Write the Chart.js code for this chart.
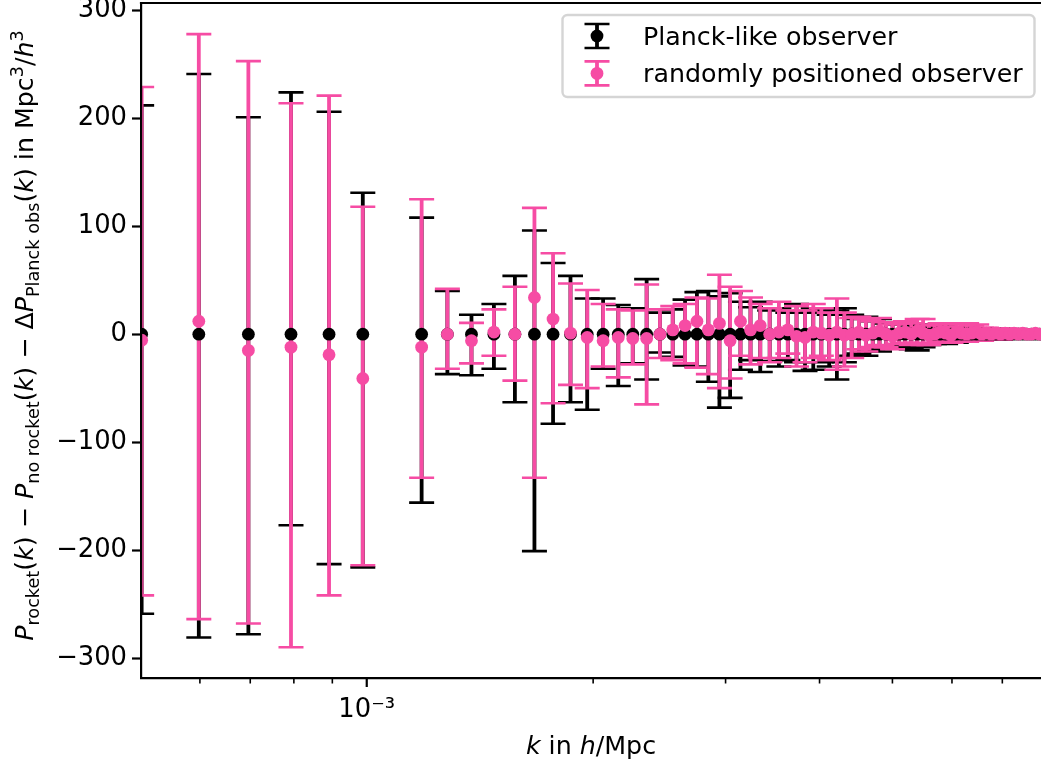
<!DOCTYPE html>
<html>
<head>
<meta charset="utf-8">
<script src="https://cdn.jsdelivr.net/npm/chart.js@4.4.1/dist/chart.umd.min.js"></script>
<style>
  html, body { margin: 0; padding: 0; background: #fff; }
  canvas { display: block; }
</style>
</head>
<body>
<canvas id="spectrum" width="1041" height="764"></canvas>
<script>
// wavenumbers, in units of 1e-3 h/Mpc
const kValues = [
  0.502, 0.598, 0.696, 0.793, 0.891, 0.988,
  1.183, 1.280, 1.378, 1.476, 1.574, 1.671, 1.769, 1.866, 1.964,
  2.062, 2.160, 2.258, 2.356, 2.454, 2.552, 2.650, 2.748, 2.846, 2.944,
  3.042, 3.140, 3.238, 3.336, 3.434, 3.532, 3.630, 3.728, 3.826, 3.924,
  4.022, 4.120, 4.218, 4.316, 4.414, 4.512, 4.610, 4.708, 4.806, 4.904,
  5.002, 5.100, 5.198, 5.296, 5.394, 5.492, 5.590, 5.688, 5.786, 5.884,
  5.982, 6.080, 6.178, 6.276, 6.374, 6.472, 6.570, 6.668, 6.766, 6.864,
  6.962, 7.060, 7.158, 7.256, 7.354, 7.452, 7.550, 7.648, 7.746, 7.844
];

// Planck-like observer: residual is zero by construction, bars give the spread
const planckMean = [
  0, 0, 0, 0, 0, 0,
  0, 0, 0, 0, 0, 0, 0, 0, 0,
  0, 0, 0, 0, 0, 0, 0, 0, 0, 0,
  0, 0, 0, 0, 0, 0, 0, 0, 0, 0,
  0, 0, 0, 0, 0, 0, 0, 0, 0, 0,
  0, 0, 0, 0, 0, 0, 0, 0, 0, 0,
  0, 0, 0, 0, 0, 0, 0, 0, 0, 0,
  0, 0, 0, 0, 0, 0, 0, 0, 0, 0
];
const planckHigh = [
  212, 241, 201, 224, 206, 131,
  108, 40, 18, 28, 54, 96, 66, 54, 33,
  33, 27, 24, 51, 20, 23, 32, 39, 40, 35,
  38, 30, 25, 30, 22, 24, 20, 28, 20, 24,
  22, 18, 22, 24, 18, 14, 16, 12, 14, 10,
  11, 9, 10, 8, 9, 8, 7, 8, 6, 7,
  6, 6, 5, 6, 5, 5, 4, 5, 4, 4,
  4, 3, 4, 3, 3, 3, 3, 3, 2, 2
];
const planckLow = [
  -259, -281, -278, -177, -213, -216,
  -156, -37, -38, -32, -63, -201, -83, -63, -70,
  -32, -48, -27, -42, -17, -21, -29, -30, -44, -68,
  -59, -33, -24, -35, -25, -30, -24, -26, -34, -33,
  -26, -30, -42, -26, -20, -18, -20, -14, -16, -12,
  -13, -11, -12, -14, -15, -12, -10, -9, -8, -9,
  -7, -8, -7, -6, -6, -6, -5, -5, -5, -5,
  -4, -4, -4, -4, -3, -3, -3, -3, -3, -3
];

// randomly positioned observer
const randomMean = [
  -5.6, 12, -15, -12, -19, -41,
  -12, 0, -6, 2, 0, 34, 14, 1, -3,
  -6, -3, -4, -4, 0, 4, 8, 12, 4, 10,
  -6, 12, 4, 8, 0, 2, 4, -2, -3, 2,
  1, -1, 2, -1, 0, 2, -1, 1, 3, 0,
  -2, 1, 2, 0, 3, 1, -1, 0, 2, 1,
  -1, 2, 1, 0, 1, 2, 0, 1, 0, 1,
  0, 1, 0, 1, 0, 1, 0, 0, 1, 0
];
const randomHigh = [
  229, 278, 253, 214, 221, 118,
  125, 42, 10.5, 23, 44, 117, 75, 47, 41,
  28, 23, 22, 46, 23, 26, 28, 34, 33, 55,
  44, 40, 34, 28, 24, 30, 22, 26, 22, 28,
  24, 20, 33, 20, 15, 16, 14, 12, 15, 11,
  9, 10, 12, 10, 14, 14, 8, 9, 10, 10,
  7, 10, 9, 10, 8, 9, 6, 6, 5, 5,
  5, 5, 4, 5, 4, 4, 4, 4, 3, 3
];
const randomLow = [
  -242, -264, -268, -290, -242, -214,
  -133, -32, -27, -20, -43, -133, -64, -47, -50,
  -30, -40, -28, -65, -22, -24, -27, -31, -37, -50,
  -41, -20, -28, -22, -26, -22, -18, -30, -26, -22,
  -20, -24, -33, -30, -22, -14, -16, -12, -10, -12,
  -14, -9, -8, -10, -8, -10, -10, -8, -6, -7,
  -8, -6, -7, -7, -6, -5, -6, -5, -5, -4,
  -5, -4, -4, -4, -4, -3, -4, -3, -3, -3
];

const seriesLabels = ['Planck-like observer', 'randomly positioned observer'];
const xMajorTicks = [1e-3];
const xMinorTicks = [6e-4, 7e-4, 8e-4, 9e-4, 2e-3, 3e-3, 4e-3, 5e-3, 6e-3, 7e-3];
const yStep = 100;

const INK = '#000000';
const PINK = '#f64ca4';
const FONT = '"DejaVu Sans", sans-serif';
const FS = 25.3;      // titles and legend
const FS_TICK = 25.8; // tick labels

const capHalf = 12.5;
const dotRadius = 6.4;

function drawErrorBar(ctx, px, top, bottom, color) {
  ctx.strokeStyle = color;
  ctx.lineCap = 'butt';
  ctx.lineWidth = 3.8;
  ctx.beginPath();
  ctx.moveTo(px, top);
  ctx.lineTo(px, bottom);
  ctx.stroke();
  ctx.lineWidth = 2.6;
  ctx.beginPath();
  ctx.moveTo(px - capHalf, top);
  ctx.lineTo(px + capHalf, top);
  ctx.moveTo(px - capHalf, bottom);
  ctx.lineTo(px + capHalf, bottom);
  ctx.stroke();
}

// bars for every dataset go under all markers
const errorBars = {
  id: 'errorBars',
  beforeDatasetsDraw(chart) {
    const { ctx, chartArea: a, scales: { x, y } } = chart;
    ctx.save();
    ctx.beginPath();
    ctx.rect(a.left, a.top, a.right - a.left, a.bottom - a.top);
    ctx.clip();
    chart.data.datasets.forEach(ds => {
      ds.data.forEach((p, i) => {
        drawErrorBar(ctx, x.getPixelForValue(p.x),
          y.getPixelForValue(ds.errHigh[i]), y.getPixelForValue(ds.errLow[i]), ds.backgroundColor);
      });
    });
    ctx.restore();
  }
};

// mixed roman / italic / sub- and superscript text
function richWidth(ctx, parts) {
  let w = 0;
  parts.forEach(p => {
    ctx.font = (p.it ? 'italic ' : '') + (FS * (p.s || 1)) + 'px ' + FONT;
    w += ctx.measureText(p.t).width;
  });
  return w;
}
function drawRich(ctx, parts, x0, base) {
  let x = x0;
  parts.forEach(p => {
    ctx.font = (p.it ? 'italic ' : '') + (FS * (p.s || 1)) + 'px ' + FONT;
    ctx.fillText(p.t, x, base + (p.dy || 0) * FS);
    x += ctx.measureText(p.t).width;
  });
}
const sub = { s: 0.7, dy: 0.22 };
const sup = { s: 0.7, dy: -0.4 };
const yTitle = [
  { t: 'P', it: true }, { t: 'rocket', ...sub }, { t: '(' }, { t: 'k', it: true }, { t: ')' },
  { t: ' \u2212 ' },
  { t: 'P', it: true }, { t: 'no rocket', ...sub }, { t: '(' }, { t: 'k', it: true }, { t: ')' },
  { t: ' \u2212 ' },
  { t: '\u0394' }, { t: 'P', it: true }, { t: 'Planck obs', ...sub }, { t: '(' }, { t: 'k', it: true }, { t: ')' },
  { t: ' in Mpc' }, { t: '3', ...sup }, { t: '/' }, { t: 'h', it: true }, { t: '3', ...sup }
];
const xTitle = [{ t: 'k', it: true }, { t: ' in ' }, { t: 'h', it: true }, { t: '/Mpc' }];

const decorations = {
  id: 'decorations',
  afterDatasetsDraw(chart) {
    const { ctx, chartArea: a, scales: { x } } = chart;
    ctx.save();
    ctx.strokeStyle = INK;
    // top spine
    ctx.lineWidth = 2.2;
    ctx.beginPath();
    ctx.moveTo(a.left - 1.1, a.top);
    ctx.lineTo(a.right, a.top);
    ctx.stroke();
    // log-axis tick marks, long for decades, short in between
    xMajorTicks.forEach(v => {
      const px = x.getPixelForValue(v);
      ctx.lineWidth = 2.2;
      ctx.beginPath(); ctx.moveTo(px, a.bottom); ctx.lineTo(px, a.bottom + 9); ctx.stroke();
    });
    xMinorTicks.forEach(v => {
      const px = x.getPixelForValue(v);
      ctx.lineWidth = 1.6;
      ctx.beginPath(); ctx.moveTo(px, a.bottom); ctx.lineTo(px, a.bottom + 5.5); ctx.stroke();
    });
    ctx.restore();
  },
  afterDraw(chart) {
    const { ctx, chartArea: a } = chart;
    ctx.save();
    ctx.fillStyle = INK;
    ctx.textBaseline = 'alphabetic';

    // axis titles
    const xw = richWidth(ctx, xTitle);
    drawRich(ctx, xTitle, (a.left + a.right) / 2 - xw / 2, 754);
    ctx.save();
    ctx.translate(33, (a.top + a.bottom) / 2 - 5);
    ctx.rotate(-Math.PI / 2);
    const yw = richWidth(ctx, yTitle);
    drawRich(ctx, yTitle, -yw / 2, 0);
    ctx.restore();

    // legend
    const bx = 562.5, by = 15, bw = 472, bh = 82;
    ctx.beginPath();
    ctx.roundRect(bx, by, bw, bh, 5);
    ctx.fillStyle = 'rgba(255,255,255,0.8)';
    ctx.fill();
    ctx.strokeStyle = '#d5d5d5';
    ctx.lineWidth = 2.4;
    ctx.stroke();
    chart.data.datasets.forEach((ds, i) => {
      const cy = 36 + i * 37.4;
      drawErrorBar(ctx, 597, cy - 12, cy + 12, ds.backgroundColor);
      ctx.fillStyle = ds.backgroundColor;
      ctx.beginPath();
      ctx.arc(597, cy, dotRadius, 0, Math.PI * 2);
      ctx.fill();
      ctx.fillStyle = INK;
      ctx.font = FS + 'px ' + FONT;
      ctx.fillText(ds.label, 643, cy + 9);
    });
    ctx.restore();
  }
};

const pointsOf = (means) => kValues.map((k, i) => ({ x: k * 1e-3, y: means[i] }));

new Chart(document.getElementById('spectrum'), {
  type: 'scatter',
  data: {
    datasets: [
      {
        label: seriesLabels[0],
        data: pointsOf(planckMean),
        errHigh: planckHigh,
        errLow: planckLow,
        backgroundColor: INK,
        pointRadius: dotRadius,
        pointBorderWidth: 0,
        pointHoverRadius: dotRadius,
        order: 2
      },
      {
        label: seriesLabels[1],
        data: pointsOf(randomMean),
        errHigh: randomHigh,
        errLow: randomLow,
        backgroundColor: PINK,
        pointRadius: dotRadius,
        pointBorderWidth: 0,
        pointHoverRadius: dotRadius,
        order: 1
      }
    ]
  },
  options: {
    responsive: false,
    devicePixelRatio: 1,
    animation: false,
    layout: { autoPadding: false, padding: { top: 3, right: 0, bottom: 0, left: 0 } },
    plugins: { legend: { display: false }, tooltip: { enabled: false } },
    scales: {
      x: {
        type: 'logarithmic',
        min: 5.01e-4,
        max: 7.88e-3,
        grid: { display: false, drawTicks: false },
        border: { display: true, color: INK, width: 2.2, z: 1 },
        ticks: {
          color: INK,
          font: { family: FONT, size: FS_TICK },
          padding: 17,
          maxRotation: 0,
          autoSkip: false,
          callback: v => (v === 1e-3 ? '10\u207B\u00B3' : '')
        },
        afterBuildTicks: s => { s.ticks = xMajorTicks.map(v => ({ value: v })); },
        afterFit: s => { s.height = 86; s.paddingLeft = 0; s.paddingRight = 0; }
      },
      y: {
        min: -318.5,
        max: 306.8,
        grid: { drawOnChartArea: false, drawTicks: true, tickLength: 9, tickWidth: 2.2, tickColor: INK },
        border: { display: true, color: INK, width: 2.2, z: 1 },
        ticks: {
          stepSize: yStep,
          includeBounds: false,
          color: INK,
          padding: 5,
          font: { family: FONT, size: FS_TICK },
          callback: v => (v < 0 ? '\u2212' + Math.abs(v) : String(v))
        },
        afterFit: s => { s.width = 141; s.paddingTop = 0; s.paddingBottom = 0; }
      }
    }
  },
  plugins: [errorBars, decorations]
});
</script>
</body>
</html>
